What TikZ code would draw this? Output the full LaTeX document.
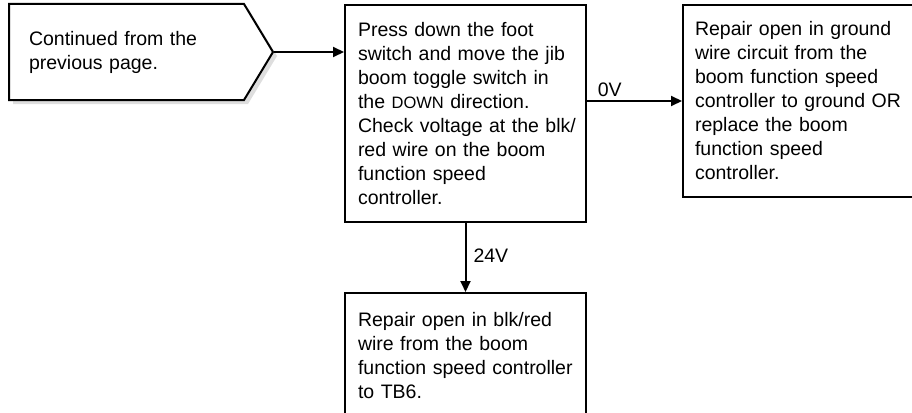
\documentclass[tikz,border=0pt]{standalone}
\usepackage{fontspec}
\setmainfont{Liberation Sans}
\usetikzlibrary{arrows.meta,shapes.symbols,shadows}

\begin{document}
\begin{tikzpicture}[x=1pt,y=-1pt,>={Triangle[length=11pt,width=10pt]},
  every node/.style={font=\fontsize{19.5}{24}\selectfont},line width=2pt,
  box/.style={draw,rectangle,anchor=north west,align=left,inner ysep=0pt},
  vlabel/.style={inner sep=3pt}]
\useasboundingbox (0,0) rectangle (912,412);
\node[draw,signal,signal to=east,signal pointer angle=117.7,anchor=west,
  text width=195pt,inner xsep=20pt,minimum height=96pt,align=left,
  drop shadow={shadow xshift=4pt,shadow yshift=-4pt,fill=black!13,opacity=1},fill=white]
  (start) at (8,52) {Continued from the\\previous page.};
\node[box,text width=215pt,inner xsep=13pt,minimum height=217pt] (check) at (344,4)
  {Press down the foot\\switch and move the jib\\boom toggle switch in\\the {\fontsize{16.5}{24}\selectfont DOWN} direction.\\\mbox{Check voltage at the blk/}\\red wire on the boom\\function speed\\controller.};
\node[box,text width=209pt,inner xsep=12pt,minimum height=192pt] (ground) at (682,4)
  {Repair open in ground\\wire circuit from the\\boom function speed\\\mbox{controller to ground OR}\\replace the boom\\function speed\\controller.};
\node[box,text width=215pt,inner xsep=13pt,minimum height=126pt] (wire) at (344,292)
  {Repair open in blk/red\\wire from the boom\\\mbox{function speed controller}\\to TB6.};
\draw[->] (start.east) -- (start.east -| check.west);
\draw[->] (check.east |- ground.west) -- node[vlabel,above,pos=0.24] {0V} (ground.west);
\draw[->] (check.south) -- node[vlabel,right,inner xsep=7pt,pos=0.48] {24V} (wire.north);
\end{tikzpicture}
\end{document}
